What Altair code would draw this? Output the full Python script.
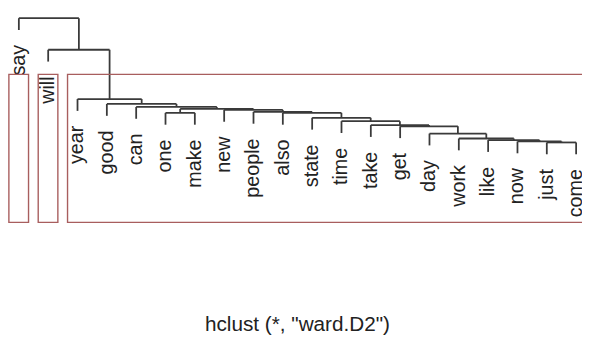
import altair as alt
import pandas as pd

# Leaf labels in the order they appear along the dendrogram
labels = ["say", "will", "year", "good", "can", "one", "make", "new", "people", "also",
          "state", "time", "take", "get", "day", "work", "like", "now", "just", "come"]

# Merge steps (bottom-up): left child, right child, merge height
merge_left = ["just", "now", "like", "work", "day", "get", "take", "time", "state", "also",
              "one", "people", "new", "m11", "can", "good", "year", "will", "say"]
merge_right = ["come", "m1", "m2", "m3", "m4", "m5", "m6", "m7", "m8", "m9",
               "make", "m10", "m12", "m13", "m14", "m15", "m16", "m17", "m18"]
merge_height = [4.5, 4.75, 5.1, 5.5, 6.75, 8.6, 8.9, 9.9, 10.75, 12.0,
                12.0, 12.25, 12.75, 13.0, 13.5, 14.25, 15.5, 28.0, 36.0]
hang = 3.0

# rect.hclust groups (k = 3)
group_first = ["say", "will", "year"]
group_last = ["say", "will", "come"]
rect_top = 21.75
rect_bottom = -15.75

subtitle = 'hclust (*, "ward.D2")'

# ---- build the tree geometry in data units ----
pos = {name: float(i) for i, name in enumerate(labels)}
top = {}
leaf_tip = {}
segs = []
for k, (l, r, h) in enumerate(zip(merge_left, merge_right, merge_height), start=1):
    for child in (l, r):
        if child in top:
            y_end = top[child]
        else:
            y_end = h - hang
            leaf_tip[child] = y_end
        segs.append({"x": pos[child], "x2": pos[child], "y": h, "y2": y_end})
    segs.append({"x": pos[l], "x2": pos[r], "y": h, "y2": h})
    name = f"m{k}"
    pos[name] = (pos[l] + pos[r]) / 2.0
    top[name] = h

seg_df = pd.DataFrame(segs)
lab_df = pd.DataFrame({"label": labels,
                       "x": [float(i) for i in range(len(labels))],
                       "y": [leaf_tip[n] for n in labels]})
rect_df = pd.DataFrame({
    "x": [labels.index(a) - 0.34 for a in group_first],
    "x2": [labels.index(b) + 0.33 for b in group_last],
    "y": [rect_top] * 3,
    "y2": [rect_bottom] * 3,
})
sub_df = pd.DataFrame({"t": [subtitle], "x": [(len(labels) - 1) / 2.0], "y": [-41.75]})

xs = alt.Scale(domain=[-0.37, 19.20], nice=False, zero=False)
ys = alt.Scale(domain=[-45.25, 38.0], nice=False, zero=False)

tree = alt.Chart(seg_df).mark_rule(color="#3a3a3a", strokeWidth=1.8).encode(
    x=alt.X("x:Q", scale=xs, axis=None),
    x2="x2:Q",
    y=alt.Y("y:Q", scale=ys, axis=None),
    y2="y2:Q",
)

leaf_text = alt.Chart(lab_df).mark_text(
    angle=270, align="right", baseline="middle", dx=-15,
    font="Liberation Sans", fontSize=20, color="#222222",
).encode(
    x=alt.X("x:Q", scale=xs, axis=None),
    y=alt.Y("y:Q", scale=ys, axis=None),
    text="label:N",
)

rects = alt.Chart(rect_df).mark_rect(
    fill="transparent", stroke="#a85e5e", strokeWidth=1.4,
).encode(
    x=alt.X("x:Q", scale=xs, axis=None),
    x2="x2:Q",
    y=alt.Y("y:Q", scale=ys, axis=None),
    y2="y2:Q",
)

sub = alt.Chart(sub_df).mark_text(
    align="center", baseline="middle",
    font="Liberation Sans", fontSize=21, color="#222222",
).encode(
    x=alt.X("x:Q", scale=xs, axis=None),
    y=alt.Y("y:Q", scale=ys, axis=None),
    text="t:N",
)

chart = alt.layer(tree, leaf_text, rects, sub).properties(
    width=582, height=333,
    autosize=alt.AutoSizeParams(type="none"),
    padding=0,
    background="white",
).configure_view(stroke=None)

chart.save("out.html", embed_options={"renderer": "svg", "actions": False})
